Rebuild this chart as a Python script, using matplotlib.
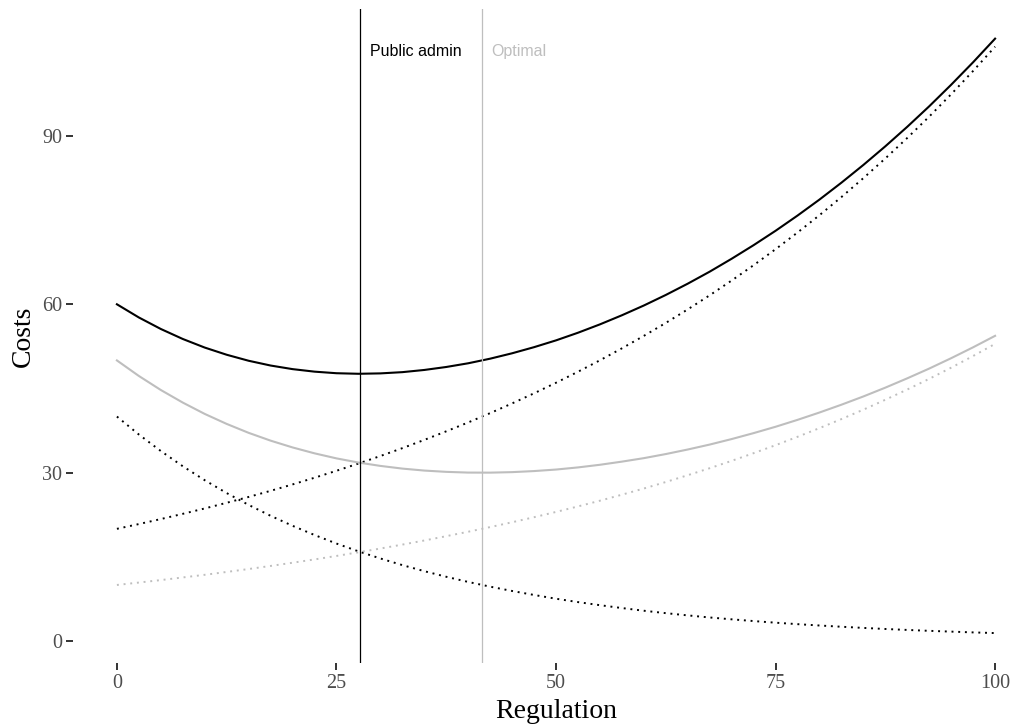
import matplotlib
matplotlib.use('Agg')
import matplotlib.pyplot as plt

# regulation level
reg = [0, 2.5, 5, 7.5, 10, 12.5, 15, 17.5, 20, 22.5, 25, 27.5, 30, 32.5, 35, 37.5, 40,
       42.5, 45, 47.5, 50, 52.5, 55, 57.5, 60, 62.5, 65, 67.5, 70, 72.5, 75, 77.5, 80,
       82.5, 85, 87.5, 90, 92.5, 95, 97.5, 100]
# cost components
falling = [40, 36.80, 33.86, 31.15, 28.66, 26.37, 24.26, 22.32, 20.54, 18.90, 17.38,
           15.99, 14.72, 13.54, 12.46, 11.46, 10.54, 9.70, 8.93, 8.22, 7.55, 6.95, 6.40,
           5.89, 5.41, 4.98, 4.58, 4.21, 3.88, 3.57, 3.28, 3.02, 2.78, 2.56, 2.35, 2.16,
           1.99, 1.83, 1.69, 1.55, 1.43]
rising_admin = [20, 20.85, 21.74, 22.67, 23.63, 24.64, 25.68, 26.77, 27.91, 29.10, 30.34,
                31.63, 32.97, 34.37, 35.84, 37.37, 38.95, 40.61, 42.34, 44.14, 46.02,
                47.98, 50.02, 52.15, 54.37, 56.68, 59.09, 61.60, 64.23, 66.96, 69.81,
                72.78, 75.87, 79.10, 82.47, 85.98, 89.63, 93.44, 97.42, 101.57, 105.89]
rising_opt = [10, 10.43, 10.87, 11.34, 11.81, 12.32, 12.84, 13.39, 13.96, 14.55, 15.17,
              15.82, 16.49, 17.19, 17.92, 18.69, 19.48, 20.31, 21.17, 22.07, 23.01,
              23.99, 25.01, 26.08, 27.18, 28.34, 29.55, 30.80, 32.11, 33.48, 34.90,
              36.39, 37.94, 39.55, 41.23, 42.99, 44.82, 46.72, 48.71, 50.79, 52.95]
total_admin = [60, 57.65, 55.60, 53.82, 52.29, 51.01, 49.94, 49.09, 48.45, 48.00, 47.72,
               47.62, 47.69, 47.91, 48.30, 48.83, 49.49, 50.31, 51.27, 52.36, 53.57,
               54.93, 56.42, 58.04, 59.78, 61.66, 63.67, 65.81, 68.11, 70.53, 73.09,
               75.80, 78.65, 81.66, 84.82, 88.14, 91.62, 95.27, 99.11, 103.12, 107.32]
total_opt = [50, 47.23, 44.73, 42.49, 40.47, 38.69, 37.10, 35.71, 34.50, 33.45, 32.55,
             31.81, 31.21, 30.73, 30.38, 30.15, 30.02, 30.01, 30.10, 30.29, 30.56,
             30.94, 31.41, 31.97, 32.59, 33.32, 34.13, 35.01, 35.99, 37.05, 38.18,
             39.41, 40.72, 42.11, 43.58, 45.15, 46.81, 48.55, 50.40, 52.34, 54.38]
vlines = [27.7, 41.6]
vlabels = ['Public admin', 'Optimal']
xticks = [0, 25, 50, 75, 100]
yticks = [0, 30, 60, 90]

grey = '#BEBEBE'
dots = (0, (1, 2.45))

fig = plt.figure(figsize=(10.13, 7.25), dpi=100)
ax = fig.add_axes([73/1013, 62/725, 966/1013, 654/725])

ax.plot(reg, falling, color='black', lw=1.4, ls=dots)
ax.plot(reg, rising_admin, color='black', lw=1.4, ls=dots)
ax.plot(reg, rising_opt, color=grey, lw=1.4, ls=dots)
ax.plot(reg, total_admin, color='black', lw=1.5)
ax.plot(reg, total_opt, color=grey, lw=1.5)

ax.axvline(vlines[0], color='black', lw=0.9)
ax.axvline(vlines[1], color=grey, lw=0.9)
ax.text(vlines[0] + 1.1, 105, vlabels[0], color='black', fontsize=11.5,
        family='Liberation Sans', va='center', ha='left')
ax.text(vlines[1] + 1.0, 105, vlabels[1], color=grey, fontsize=11.5,
        family='Liberation Sans', va='center', ha='left')

ax.set_xlim(-5, 105)
ax.set_ylim(-3.9, 112.6)
ax.set_xticks(xticks)
ax.set_yticks(yticks)
for s in ax.spines.values():
    s.set_visible(False)
ax.tick_params(length=5, width=1.4, color='#333333', labelcolor='#4D4D4D',
               labelsize=14.5, pad=3)
for lab in ax.get_xticklabels() + ax.get_yticklabels():
    lab.set_family('Liberation Serif')
ax.set_xlabel('Regulation', family='Liberation Serif', fontsize=20, labelpad=4)
ax.set_ylabel('Costs', family='Liberation Serif', fontsize=20, labelpad=4)

fig.savefig('out.png', dpi=100)
